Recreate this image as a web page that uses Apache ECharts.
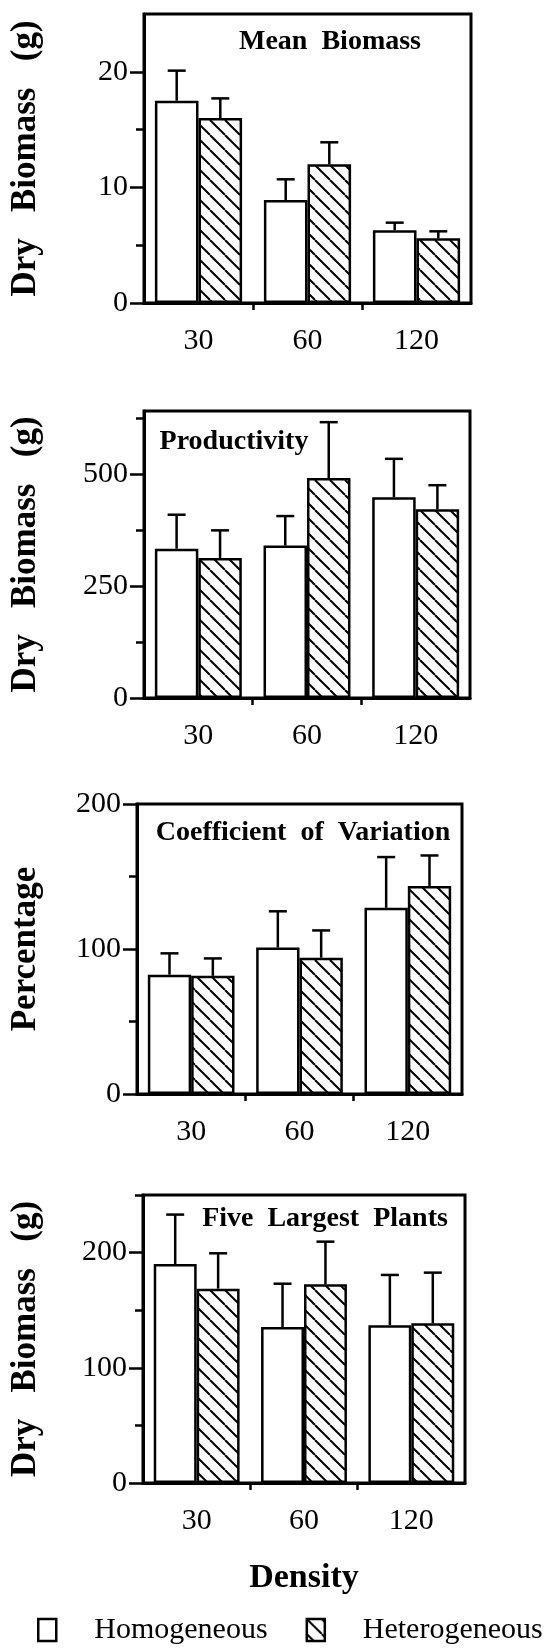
<!DOCTYPE html>
<html>
<head>
<meta charset="utf-8">
<script src="https://cdn.jsdelivr.net/npm/echarts@6/dist/echarts.min.js"></script>
<style>
html, body { margin: 0; padding: 0; background: #fff; }
#chart { width: 556px; height: 1652px; }
</style>
</head>
<body>
<div id="chart"></div>
<script>
// categories and legend names
const densities = ['30', '60', '120'];
const seriesNames = ['Homogeneous', 'Heterogeneous'];
const panelTitles = ['Mean  Biomass', 'Productivity', 'Coefficient  of  Variation', 'Five  Largest  Plants'];
const yNames = ['Dry   Biomass   (g)', 'Dry   Biomass   (g)', 'Percentage', 'Dry   Biomass   (g)'];

// values (bar height, one-sided error)
const meanHom = [17.5, 8.9, 6.3];
const meanHomErr = [2.6, 1.8, 0.65];
const meanHet = [16.0, 12.0, 5.6];
const meanHetErr = [1.7, 1.9, 0.6];

const prodHom = [334, 341, 449];
const prodHomErr = [76, 66, 86];
const prodHet = [313, 492, 422];
const prodHetErr = [62, 125, 54];

const cvHom = [82.3, 101, 128.4];
const cvHomErr = [14.7, 25, 35];
const cvHet = [81.5, 94, 143.5];
const cvHetErr = [12, 18.8, 21];

const fiveHom = [190, 135.4, 137];
const fiveHomErr = [43, 37.6, 43.6];
const fiveHet = [168.7, 172.5, 138.6];
const fiveHetErr = [30.7, 37, 44];

// axis ranges and ticks
const yMax = [25, 642, 200, 250];
const majorTicks = [[0, 10, 20], [0, 250, 500], [0, 100, 200], [0, 100, 200]];
const minorTicks = [[5, 15], [125, 375, 625], [50, 150], [50, 150, 250]];

const homData = [meanHom, prodHom, cvHom, fiveHom];
const homErrData = [meanHomErr, prodHomErr, cvHomErr, fiveHomErr];
const hetData = [meanHet, prodHet, cvHet, fiveHet];
const hetErrData = [meanHetErr, prodHetErr, cvHetErr, fiveHetErr];

// layout
const FONT = '"Liberation Serif", "Times New Roman", serif';
const grids = [
    {left: 141, top: 14, width: 330, height: 289},
    {left: 141, top: 411, width: 329, height: 287},
    {left: 134, top: 804, width: 328, height: 290},
    {left: 135, top: 1195, width: 330, height: 288}
];
const nameGaps = [101, 101, 94, 100];
const titlePos = [[330, 41.5], [234, 442], [303, 833], [325, 1219]];

function makeHatch() {
    const s = 15;
    const c = document.createElement('canvas');
    c.width = s;
    c.height = s;
    const ctx = c.getContext('2d');
    ctx.fillStyle = '#fff';
    ctx.fillRect(0, 0, s, s);
    ctx.strokeStyle = '#000';
    ctx.lineWidth = 2;
    [-s, 0, s].forEach(k => {
        ctx.beginPath();
        ctx.moveTo(k, 0);
        ctx.lineTo(k + s, s);
        ctx.stroke();
    });
    return c;
}
const hatchFill = {image: makeHatch(), repeat: 'repeat'};

function errorBars(p) {
    const data = [];
    densities.forEach((d, i) => {
        data.push([i, homData[p][i], homErrData[p][i], -1]);
        data.push([i, hetData[p][i], hetErrData[p][i], 1]);
    });
    return {
        type: 'custom',
        xAxisIndex: 2 * p,
        yAxisIndex: 2 * p,
        z: 5,
        silent: true,
        data: data,
        renderItem: function (params, api) {
            const i = api.value(0), v = api.value(1), e = api.value(2), side = api.value(3);
            const band = api.size([1, 0])[0];
            const base = api.coord([i, v]);
            const tip = api.coord([i, v + e]);
            const x = base[0] + side * band * 0.8 / 4;
            const st = {stroke: '#000', lineWidth: 2.5};
            return {
                type: 'group',
                children: [
                    {type: 'line', shape: {x1: x, y1: base[1], x2: x, y2: tip[1]}, style: st},
                    {type: 'line', shape: {x1: x - 9, y1: tip[1], x2: x + 9, y2: tip[1]}, style: st}
                ]
            };
        }
    };
}

const xAxes = [], yAxes = [], series = [];
grids.forEach((g, p) => {
    xAxes.push({
        type: 'category', gridIndex: p, data: densities, position: 'bottom',
        axisLine: {onZero: false, lineStyle: {color: '#000', width: 3}},
        axisTick: {show: false},
        axisLabel: {color: '#000', fontFamily: FONT, fontSize: 30, margin: 23},
        name: p === 3 ? 'Density' : '',
        nameLocation: 'middle', nameGap: 78,
        nameTextStyle: {color: '#000', fontFamily: FONT, fontWeight: 'bold', fontSize: 34}
    });
    xAxes.push({
        type: 'value', gridIndex: p, min: 0, max: 3, position: 'bottom',
        axisLine: {show: false, onZero: false},
        axisLabel: {show: false},
        splitLine: {show: false},
        axisTick: {show: true, length: 7, lineStyle: {color: '#000', width: 2.5}, customValues: [1, 2]}
    });
    yAxes.push({
        type: 'value', gridIndex: p, min: 0, max: yMax[p], position: 'left',
        axisLine: {show: true, onZero: false, lineStyle: {color: '#000', width: 3}},
        axisTick: {show: true, length: 14, lineStyle: {color: '#000', width: 2.5}, customValues: majorTicks[p]},
        axisLabel: {customValues: majorTicks[p], color: '#000', fontFamily: FONT, fontSize: 30, margin: 16},
        splitLine: {show: false},
        name: yNames[p], nameLocation: 'middle', nameRotate: 90, nameGap: nameGaps[p],
        nameTextStyle: {color: '#000', fontFamily: FONT, fontWeight: 'bold', fontSize: 35}
    });
    yAxes.push({
        type: 'value', gridIndex: p, min: 0, max: yMax[p], position: 'left',
        axisLine: {show: false, onZero: false},
        axisLabel: {show: false},
        splitLine: {show: false},
        axisTick: {show: true, length: 8, lineStyle: {color: '#000', width: 2.5}, customValues: minorTicks[p]}
    });
    series.push({
        type: 'bar', name: seriesNames[0], xAxisIndex: 2 * p, yAxisIndex: 2 * p,
        data: homData[p], barGap: '0%', barCategoryGap: '20%',
        itemStyle: {color: '#fff', borderColor: '#000', borderWidth: 2.5},
        emphasis: {disabled: true}
    });
    series.push({
        type: 'bar', name: seriesNames[1], xAxisIndex: 2 * p, yAxisIndex: 2 * p,
        data: hetData[p], barGap: '0%', barCategoryGap: '20%',
        itemStyle: {color: hatchFill, borderColor: '#000', borderWidth: 2.5},
        emphasis: {disabled: true}
    });
    series.push(errorBars(p));
});

const chart = echarts.init(document.getElementById('chart'));
chart.setOption({
    animation: false,
    backgroundColor: '#fff',
    grid: grids.map(g => Object.assign({show: true, borderColor: '#000', borderWidth: 3, containLabel: false}, g)),
    xAxis: xAxes,
    yAxis: yAxes,
    legend: {
        data: seriesNames, left: 37, top: 1615, padding: 0,
        icon: 'rect', itemWidth: 18, itemHeight: 22, itemGap: 38, selectedMode: false,
        itemStyle: {borderColor: '#000', borderWidth: 2.5},
        textStyle: {color: '#000', fontFamily: FONT, fontSize: 30, padding: [0, 0, 0, 33]}
    },
    graphic: panelTitles.map((t, p) => ({
        type: 'text', x: titlePos[p][0], y: titlePos[p][1], silent: true,
        style: {
            text: t, font: 'bold 28px ' + FONT, fill: '#000',
            align: 'center', verticalAlign: 'middle',
            textAlign: 'center', textVerticalAlign: 'middle'
        }
    })),
    series: series
});
</script>
</body>
</html>
